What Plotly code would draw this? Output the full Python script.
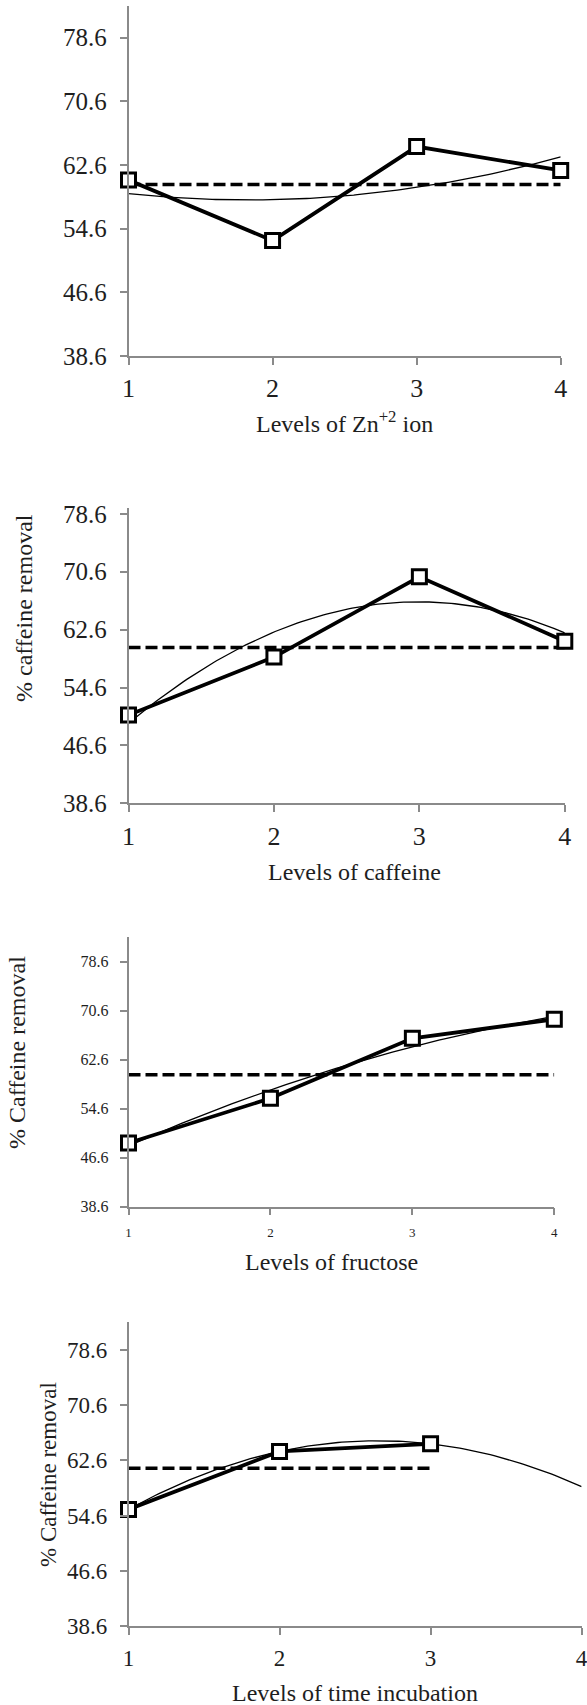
import numpy as np
import plotly.graph_objects as go

# ---------------- data ----------------
levels = [1, 2, 3, 4]
zn_removal = [60.7, 53.1, 64.9, 61.9]
caffeine_removal = [50.8, 58.8, 69.9, 61.0]
fructose_removal = [49.0, 56.3, 66.1, 69.2]
time_levels = [1, 2, 3]
time_removal = [55.5, 63.9, 65.0]
y_tick_vals = [38.6, 46.6, 54.6, 62.6, 70.6, 78.6]
y_tick_text = ["38.6", "46.6", "54.6", "62.6", "70.6", "78.6"]
x_tick_vals = [1, 2, 3, 4]
x_tick_text = ["1", "2", "3", "4"]

x_titles = ["Levels of Zn<sup>+2</sup> ion", "Levels of caffeine",
            "Levels of fructose", "Levels of time incubation"]
y_titles = [None, "% caffeine removal", "% Caffeine removal", "% Caffeine removal"]

# ---------------- layout (pixel geometry) ----------------
W, H = 587, 1705
FONT = "Liberation Serif, Times New Roman, serif"
AX = "#8a8a8a"
TXT = "#1e1e1e"

panels = [
    dict(x=levels, y=zn_removal, trend_end=4, dom_x=(128.5, 560.7), dom_y=(5.7, 356),
         yr=(38.6, 82.6), ytf=25, xtf=26, xso=1, xt_pos=(344.6, 421.7), xt_size=24,
         yt_pos=None, yt_size=24),
    dict(x=levels, y=caffeine_removal, trend_end=4, dom_x=(128.5, 564.8), dom_y=(508, 803.3),
         yr=(38.6, 79.4), ytf=25, xtf=26, xso=2, xt_pos=(354, 871.7), xt_size=24,
         yt_pos=(24, 608), yt_size=24),
    dict(x=levels, y=fructose_removal, trend_end=4, dom_x=(128.5, 554.3), dom_y=(936.7, 1206.7),
         yr=(38.6, 82.7), ytf=16, xtf=13, xso=6, xt_pos=(331, 1261.7), xt_size=24,
         yt_pos=(17, 1053), yt_size=24),
    dict(x=time_levels, y=time_removal, trend_end=4, dom_x=(128.5, 581.6), dom_y=(1321.7, 1626),
         yr=(38.6, 82.7), ytf=23, xtf=23, xso=4, xt_pos=(355, 1692.7), xt_size=24,
         yt_pos=(48, 1475), yt_size=23),
]

fig = go.Figure()
annotations = []

for i, p in enumerate(panels, start=1):
    xa = "x" if i == 1 else f"x{i}"
    ya = "y" if i == 1 else f"y{i}"
    xs = np.array(p["x"], dtype=float)
    ys = np.array(p["y"], dtype=float)

    # mean reference line (dashed)
    m = float(np.mean(ys))
    fig.add_trace(go.Scatter(x=[xs[0], xs[-1]], y=[m, m], mode="lines",
                             line=dict(color="black", width=3.5, dash="12px,5px"),
                             xaxis=xa, yaxis=ya, showlegend=False, hoverinfo="skip"))
    # 2nd order polynomial trendline
    coef = np.polyfit(xs, ys, 2)
    xt = np.linspace(1, p["trend_end"], 120)
    fig.add_trace(go.Scatter(x=xt, y=np.polyval(coef, xt), mode="lines",
                             line=dict(color="black", width=1.3),
                             xaxis=xa, yaxis=ya, showlegend=False, hoverinfo="skip"))
    # data
    fig.add_trace(go.Scatter(x=xs, y=ys, mode="lines+markers",
                             line=dict(color="black", width=3.8),
                             marker=dict(symbol="square", size=14, color="white",
                                         line=dict(color="black", width=3)),
                             cliponaxis=False,
                             xaxis=xa, yaxis=ya, showlegend=False))

    common = dict(showline=True, linecolor=AX, linewidth=1.5, ticks="outside",
                  ticklen=7, tickwidth=1.5, tickcolor=AX, showgrid=False,
                  zeroline=False, color=TXT, automargin=False)
    fig.update_layout(**{
        ("xaxis" if i == 1 else f"xaxis{i}"): dict(
            domain=[p["dom_x"][0] / W, p["dom_x"][1] / W],
            anchor=ya, range=[1, 4], tickmode="array", tickvals=x_tick_vals,
            ticktext=x_tick_text, tickfont=dict(family=FONT, size=p["xtf"], color=TXT),
            ticklabelstandoff=p["xso"], ticklabeloverflow="allow", **common),
        ("yaxis" if i == 1 else f"yaxis{i}"): dict(
            domain=[1 - p["dom_y"][1] / H, 1 - p["dom_y"][0] / H],
            anchor=xa, range=list(p["yr"]), tickmode="array", tickvals=y_tick_vals,
            ticktext=y_tick_text, tickfont=dict(family=FONT, size=p["ytf"], color=TXT),
            ticklabelstandoff=8, **common),
    })

    annotations.append(dict(text=x_titles[i - 1], x=p["xt_pos"][0] / W, y=1 - p["xt_pos"][1] / H,
                            xref="paper", yref="paper", xanchor="center", yanchor="middle",
                            showarrow=False, font=dict(family=FONT, size=p["xt_size"], color=TXT)))
    if y_titles[i - 1] and p["yt_pos"]:
        annotations.append(dict(text=y_titles[i - 1], x=p["yt_pos"][0] / W, y=1 - p["yt_pos"][1] / H,
                                xref="paper", yref="paper", xanchor="center", yanchor="middle",
                                textangle=-90, showarrow=False,
                                font=dict(family=FONT, size=p["yt_size"], color=TXT)))

fig.update_layout(template="none", width=W, height=H, autosize=False,
                  margin=dict(l=0, r=0, t=0, b=0, pad=0),
                  paper_bgcolor="white", plot_bgcolor="white",
                  font=dict(family=FONT, color=TXT),
                  annotations=annotations, showlegend=False)

fig.write_html("out.html",
               config={"displayModeBar": False, "responsive": False},
               default_width=f"{W}px", default_height=f"{H}px",
               post_script="document.body.style.margin='0';document.body.style.padding='0';"
                           "document.documentElement.style.overflow='hidden';")
